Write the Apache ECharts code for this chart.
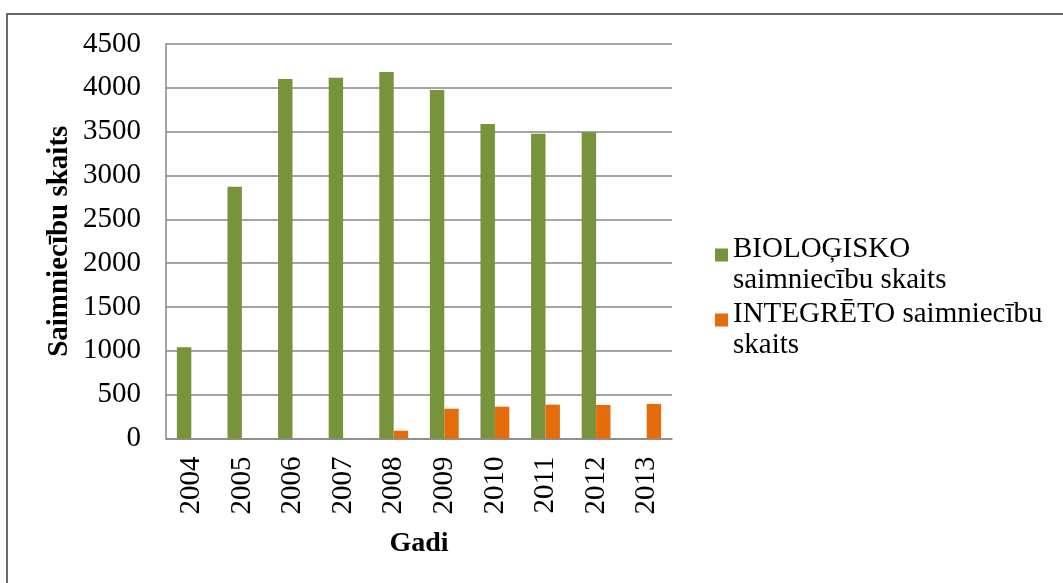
<!DOCTYPE html>
<html>
<head>
<meta charset="utf-8">
<script src="https://cdn.jsdelivr.net/npm/echarts@6/dist/echarts.min.js"></script>
<style>
  html, body { margin: 0; padding: 0; background: #fff; }
  #chart { width: 1063px; height: 583px; }
</style>
</head>
<body>
<div id="chart"></div>
<script>
// gadi
var years = ["2004", "2005", "2006", "2007", "2008", "2009", "2010", "2011", "2012", "2013"];
// BIOLOĢISKO saimniecību skaits
var bioData = [1040, 2872, 4101, 4116, 4181, 3975, 3587, 3477, 3493, null];
// INTEGRĒTO saimniecību skaits
var integData = [null, null, null, null, 89, 340, 363, 386, 382, 394];
var seriesNames = ["BIOLOĢISKO saimniecību skaits", "INTEGRĒTO saimniecību skaits"];
var legendLines = {
  "BIOLOĢISKO saimniecību skaits": ["BIOLOĢISKO", "saimniecību skaits"],
  "INTEGRĒTO saimniecību skaits": ["INTEGRĒTO saimniecību", "skaits"],
};

var font = '"Liberation Serif", "Times New Roman", serif';
var chart = echarts.init(document.getElementById("chart"));

// ikona pret pirmo rindu, ne pret visa teksta vidu
function legendFor(name, top) {
  return {
    data: [name],
    orient: "vertical",
    left: 715,
    top: top,
    padding: 0,
    itemWidth: 13,
    itemHeight: 13,
    itemGap: 0,
    icon: "rect",
    selectedMode: false,
    formatter: function (n) {
      var l = legendLines[n];
      return "{p| }\n{a|" + l[0] + "}\n{a|" + l[1] + "}";
    },
    textStyle: {
      fontFamily: font,
      fontSize: 29,
      color: "#000",
      rich: {
        p: { fontSize: 1, lineHeight: 19 },
        a: { fontFamily: font, fontSize: 29, lineHeight: 31, color: "#000" },
      },
    },
  };
}

chart.setOption({
  animation: false,
  textStyle: { fontFamily: font },
  graphic: [
    {
      type: "rect",
      shape: { x: 7, y: 14, width: 1100, height: 620 },
      style: { fill: "none", stroke: "#3a3a3a", lineWidth: 1.5 },
      silent: true,
      z: -1,
    },
  ],
  grid: {
    left: 166,
    top: 44,
    right: 391,
    bottom: 144.5,
  },
  legend: [legendFor(seriesNames[0], 223.5), legendFor(seriesNames[1], 288.5)],
  xAxis: {
    type: "category",
    data: years,
    name: "Gadi",
    nameLocation: "middle",
    nameGap: 91,
    nameTextStyle: { fontFamily: font, fontSize: 28, fontWeight: "bold", color: "#000" },
    axisLine: { lineStyle: { color: "#868686", width: 1.5 } },
    axisTick: { show: false },
    axisLabel: {
      rotate: 90,
      margin: 18,
      fontFamily: font,
      fontSize: 29,
      color: "#000",
    },
  },
  yAxis: {
    type: "value",
    min: 0,
    max: 4500,
    interval: 500,
    name: "Saimniecību skaits",
    nameLocation: "middle",
    nameRotate: 90,
    nameGap: 92,
    nameTextStyle: { fontFamily: font, fontSize: 29, fontWeight: "bold", color: "#000" },
    axisLine: { show: true, lineStyle: { color: "#868686", width: 1.5 } },
    axisTick: { show: false },
    splitLine: { lineStyle: { color: "#868686", width: 1.5 } },
    axisLabel: {
      margin: 25,
      fontFamily: font,
      fontSize: 29,
      color: "#000",
      formatter: function (v) {
        return String(v);
      },
    },
  },
  series: [
    {
      name: seriesNames[0],
      type: "bar",
      data: bioData,
      barGap: "0%",
      barCategoryGap: "43%",
      itemStyle: { color: "#77933C" },
    },
    {
      name: seriesNames[1],
      type: "bar",
      data: integData,
      barGap: "0%",
      barCategoryGap: "43%",
      itemStyle: { color: "#E46C0A" },
    },
  ],
});
</script>
</body>
</html>
